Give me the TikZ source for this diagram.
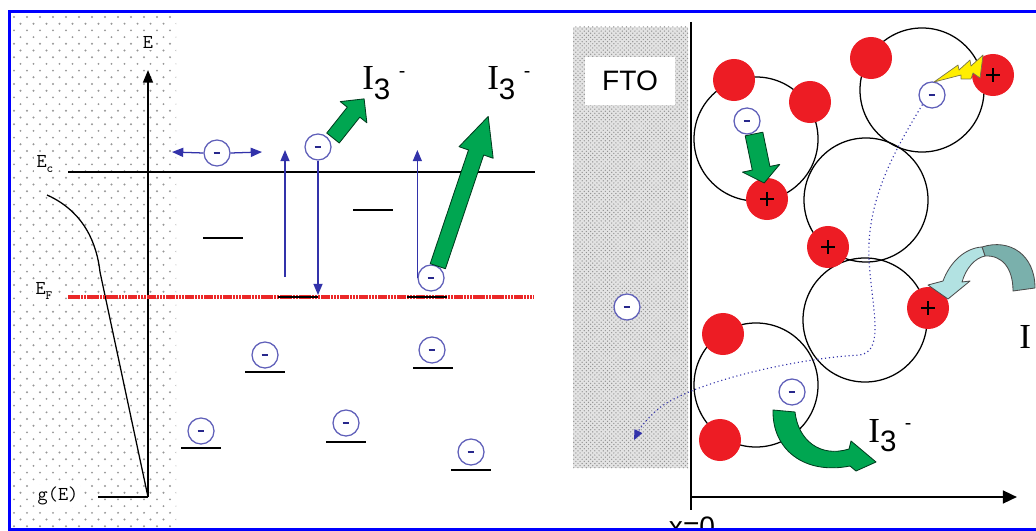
\documentclass[tikz,border=0pt]{standalone}
\usepackage{fontspec}
\setmainfont{Liberation Serif}
\setsansfont{Liberation Sans}
\usepackage{xcolor}
\definecolor{framebl}{RGB}{0, 0, 255}
\definecolor{dotgray}{RGB}{150, 150, 150}
\definecolor{elecline}{RGB}{95, 95, 185}
\definecolor{elebar}{RGB}{40, 40, 140}
\definecolor{hopblue}{RGB}{50, 50, 170}
\definecolor{fermired}{RGB}{235, 40, 40}
\definecolor{dyered}{RGB}{237, 28, 36}
\definecolor{dyegreen}{RGB}{0, 166, 81}
\definecolor{dyegreendk}{RGB}{0, 60, 30}
\definecolor{boltyel}{RGB}{255, 238, 0}
\definecolor{iodlight}{RGB}{178, 226, 226}
\definecolor{ioddark}{RGB}{122, 176, 172}
\usepackage{tikz}
\usetikzlibrary{arrows.meta, patterns}

\newcommand{\ithree}{{\fontsize{25}{25}\selectfont I}%
  \raisebox{-7pt}{\sffamily\fontsize{21}{21}\selectfont 3}\hspace{6pt}%
  \raisebox{9pt}{\sffamily\fontsize{14}{14}\selectfont -}}

\begin{document}
\begin{tikzpicture}[x=0.025cm, y=-0.025cm]

  \tikzstyle{electron} = [
    circle, draw=elecline, line width=0.9pt, fill=white,
    minimum size=0.65cm, inner sep=0pt,
    path picture={\draw[elebar, line width=1.7pt]
      ([xshift=-0.085cm]path picture bounding box.center) --
      ([xshift=0.085cm]path picture bounding box.center);}
  ]
  \tikzstyle{dye} = [circle, fill=dyered, minimum size=1.05cm, inner sep=0pt]
  \tikzstyle{dyeplus} = [
    dye,
    path picture={\draw[black, line width=1.7pt]
      ([xshift=-0.17cm]path picture bounding box.center) --
      ([xshift=0.17cm]path picture bounding box.center)
      ([yshift=-0.17cm]path picture bounding box.center) --
      ([yshift=0.17cm]path picture bounding box.center);}
  ]
  \tikzstyle{particle} = [circle, draw=black, line width=0.9pt, minimum size=3.1cm, inner sep=0pt]
  \tikzstyle{hop} = [draw=hopblue, line width=0.9pt, -{Triangle[length=8pt, width=6.5pt]}]
  \tikzstyle{level} = [draw=black, line width=1.4pt]
  \tikzstyle{fermi} = [draw=fermired, line width=2.6pt, dash pattern=on 1.8pt off 0.45pt]
  \tikzstyle{fatgreen} = [fill=dyegreen, draw=dyegreendk, line width=0.6pt, line join=round]
  \tikzstyle{ttlabel} = [font=\ttfamily\fontsize{14}{14}\selectfont, fill=white, inner sep=1.5pt]
  \tikzstyle{ionlabel} = [anchor=base west, inner sep=0pt]

  \useasboundingbox (0,0) rectangle (1036,531);

  % dotted background of the energy diagram
  \begin{scope}
    \clip (12,14) rectangle (176,528);
    \foreach \row in {0,...,76} {
      \foreach \col in {0,...,13} {
        \fill[dotgray] ({14+13*\col+6.5*mod(\row,2)}, {17+6.7*\row}) circle (0.75pt);
      }
    }
  \end{scope}

  % FTO layer
  \fill[gray!22] (573,27) rectangle (688,468);
  \fill[pattern=crosshatch dots, pattern color=gray!85] (573,27) rectangle (688,468);
  \node[fill=white, minimum width=2.25cm, minimum height=1.2cm, inner sep=0pt,
        font=\sffamily\fontsize{20}{20}\selectfont] (fto) at (630,81) {FTO};

  % energy axis and density of states
  \coordinate (origin) at (148,497);
  \coordinate (etop) at (148,70);
  \coordinate (gstart) at (98,497);
  \draw[line width=1.4pt, -{Triangle[length=9pt, width=7pt]}] (origin) -- (etop);
  \draw[line width=1.4pt] (gstart) -- (origin);
  \draw[line width=0.9pt] (47,195) .. controls (85,212) and (97,245) .. (100,272) -- (origin);

  \node[ttlabel] (elab) at (148,42) {E};
  \node[ttlabel] (eclab) at (45,164) {E\raisebox{-3pt}{\fontsize{9}{9}\selectfont c}};
  \node[ttlabel] (eflab) at (44,291) {E\raisebox{-3pt}{\fontsize{9}{9}\selectfont F}};
  \node[ttlabel] (glab) at (58,496) {g(E)};

  \coordinate (ecL) at (68,172);
  \coordinate (ecR) at (535,172);
  \coordinate (efL) at (68,297);
  \coordinate (efR) at (534,297);
  \draw[line width=1.4pt] (ecL) -- (ecR);
  \draw[fermi] (efL) -- (efR);

  % trap levels
  \foreach \x/\y in {223/238, 373/210, 298/297, 427/297, 265/372,
                     433/368, 201/448, 346/442, 471/470}
    \draw[level] (\x-20,\y) -- (\x+20,\y);

  % electrons in the energy diagram
  \node[electron] (eL1) at (217,153) {};
  \node[electron] (eL2) at (318,147) {};
  \node[electron] (eL3) at (431,278) {};
  \node[electron] (eL4) at (265,355) {};
  \node[electron] (eL5) at (432,350) {};
  \node[electron] (eL6) at (201,431) {};
  \node[electron] (eL7) at (346,423) {};
  \node[electron] (eL8) at (471,452) {};

  \coordinate (hopL) at (172,152);
  \coordinate (hopR) at (262,152);
  \coordinate (upA0) at (285,277);
  \coordinate (upA1) at (285,150);
  \coordinate (dnA) at (318,295);
  \coordinate (upB) at (417,150);
  \draw[hop] (eL1.west) -- (hopL);
  \draw[hop] (eL1.east) -- (hopR);
  \draw[hop] (upA0) -- (upA1);
  \draw[hop] (eL2.south) -- (dnA);
  \draw[hop] (eL3.west) -- (eL3.west |- upB);

  % recombination with tri-iodide
  \draw[fatgreen, shift={(333,138)}, rotate=51.5]
    (0,-8) -- (33,-8) -- (33,-17) -- (50,0) -- (33,17) -- (33,8) -- (0,8) -- cycle;
  \draw[fatgreen, shift={(eL3.60)}, rotate=71.4]
    (0,-8) -- (120,-8) -- (120,-18) -- (158,0) -- (120,18) -- (120,8) -- (0,8) -- cycle;
  \node[ionlabel] (iodA) at (362,90) {\ithree};
  \node[ionlabel] (iodB) at (487,90) {\ithree};

  % electrode side: axes
  \coordinate (xtop) at (691,22);
  \coordinate (xbot) at (691,510);
  \coordinate (xorig) at (691,497);
  \coordinate (xend) at (1017,497);
  \draw[line width=2.1pt] (xtop) -- (xbot);
  \draw[line width=1.8pt, -{Triangle[length=10pt, width=9pt]}] (xorig) -- (xend);
  \node[font=\sffamily\fontsize{20}{20}\selectfont, anchor=north, inner sep=0pt] (xzero) at (692,517) {x=0};

  % TiO2 particles
  \node[particle] (pA) at (756,139) {};
  \node[particle] (pB) at (922,90) {};
  \node[particle] (pC) at (866,200) {};
  \node[particle] (pD) at (865,320) {};
  \node[particle] (pE) at (756,385) {};

  % diffusion path of the injected electron
  \node[electron] (eR2) at (932,95) {};
  \draw[hopblue, dotted, line width=0.8pt, -{Triangle[length=7pt, width=6pt]}]
    (eR2.south west) .. controls (895,150) and (866,200) .. (869,260)
    .. controls (872,310) and (885,350) .. (860,355)
    .. controls (800,358) and (700,380) .. (662,406)
    .. controls (648,417) and (640,428) .. (634,440);

  % dye molecules
  \node[dye] (d1) at (734,80) {};
  \node[dye] (d2) at (810,102) {};
  \node[dyeplus] (d3) at (767,199) {};
  \node[dye] (d4) at (871,58) {};
  \node[dyeplus] (d5) at (993,75) {};
  \node[dyeplus] (d6) at (828,247) {};
  \node[dyeplus] (d7) at (928,308) {};
  \node[dye] (d8) at (723,334) {};
  \node[dye] (d9) at (720,440) {};

  \node[electron] (eR1) at (747,121) {};
  \node[electron] (eR3) at (627,307) {};
  \node[electron] (eR4) at (792,392) {};

  % excitation
  \draw[fill=boltyel, draw=black!60!yellow, line width=0.5pt, line join=round]
    (934,82) -- (958,65) -- (959,70) -- (970,60) -- (971,66) -- (983,55)
    -- (980,78) -- (973,73) -- (971,79) -- (961,79) -- (961,75) -- cycle;

  % electron to dye cation
  \draw[fatgreen, shift={(754,134)}, rotate=-78.3]
    (0,-9) -- (35,-9) -- (35,-19) -- (50,0) -- (35,19) -- (35,9) -- (0,9) -- cycle;

  % regeneration by iodide
  \draw[fill=ioddark, draw=black!70, line width=0.6pt, line join=round]
    (982,247) .. controls (1010,238) and (1035,255) .. (1035,288)
    -- (1013,291) .. controls (1013,268) and (1002,255) .. (985,256) -- cycle;
  \draw[fill=iodlight, draw=black!70, line width=0.6pt, line join=round]
    (982,247) .. controls (965,248) and (950,262) .. (943,281)
    -- (928,285) -- (948,299) -- (970,281) -- (962,282)
    .. controls (966,268) and (975,258) .. (985,256) -- cycle;
  \node[ionlabel] (iodm) at (1019,348) {\fontsize{25}{25}\selectfont I};

  % back reaction
  \draw[fatgreen]
    (773,410) .. controls (772,450) and (805,475) .. (850,466)
    -- (856,471) -- (876,462) -- (851,441) -- (849,449)
    .. controls (820,458) and (798,440) .. (795,412) -- cycle;
  \node[ionlabel] (iodC) at (868,442) {\ithree};

  % frame
  \draw[framebl, line width=2.8pt] (9.5,11.5) rectangle (1050,529.5);

\end{tikzpicture}
\end{document}
